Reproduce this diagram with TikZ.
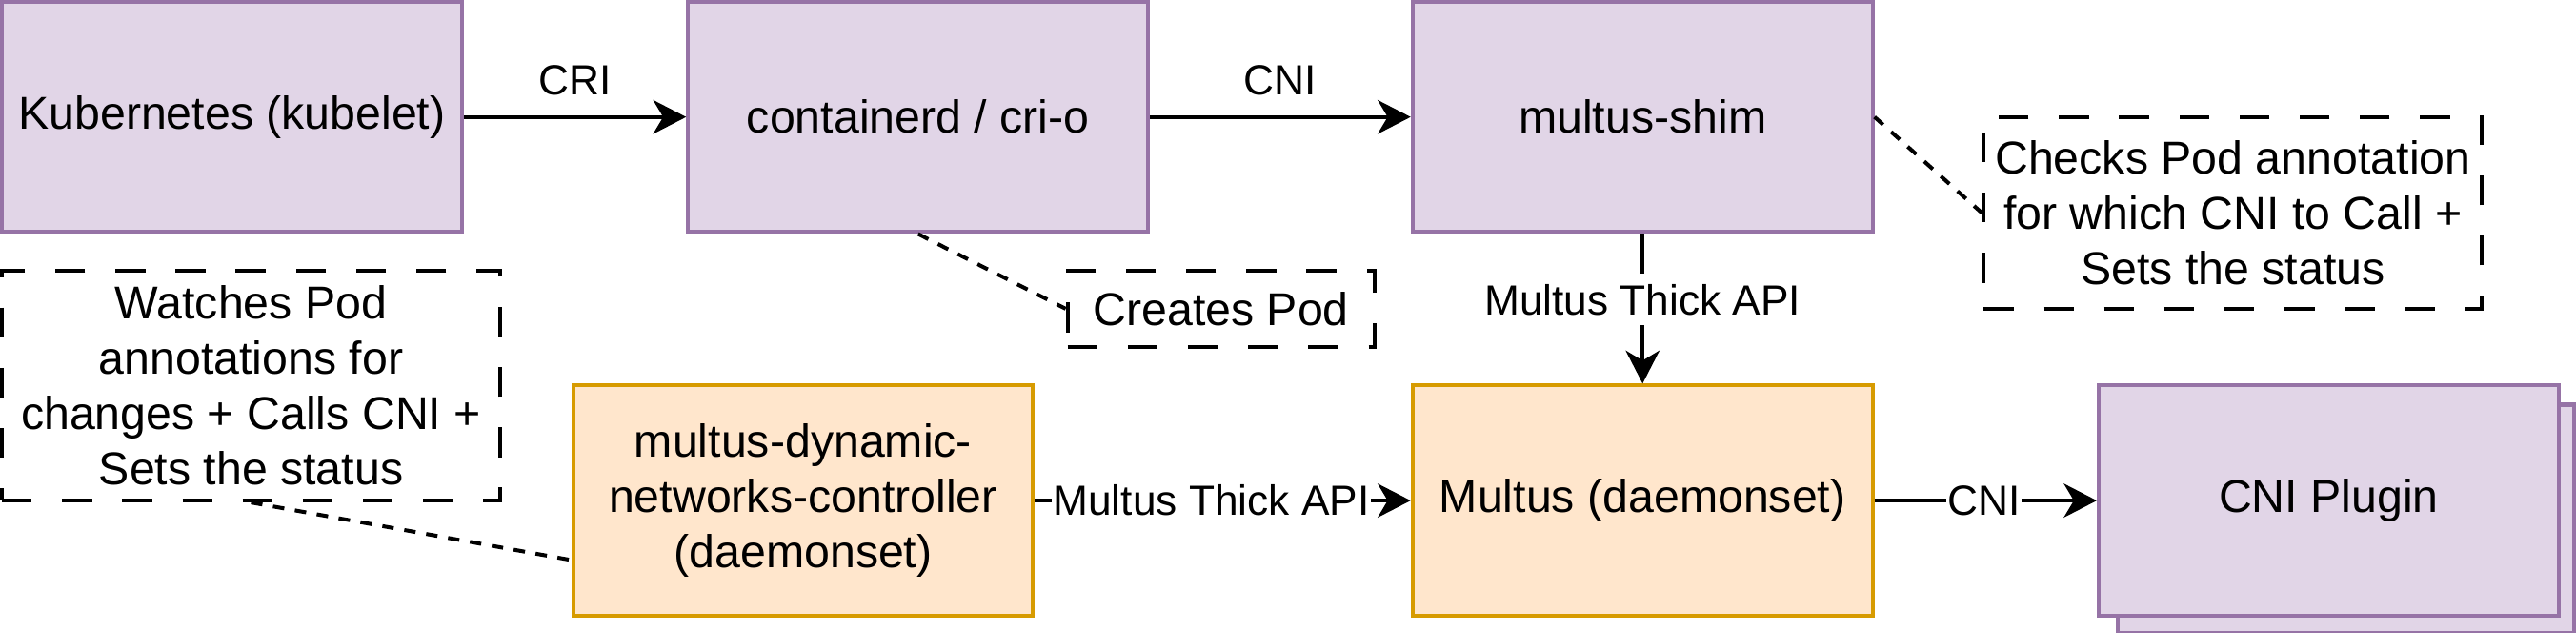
\documentclass[tikz,border=0pt]{standalone}
\usepackage{fontspec}
\setmainfont{Liberation Sans}
\usetikzlibrary{arrows.meta,calc}
\definecolor{pfill}{HTML}{E1D5E7}
\definecolor{pdraw}{HTML}{9673A6}
\definecolor{ofill}{HTML}{FFE6CC}
\definecolor{odraw}{HTML}{D79B00}
\begin{document}
\begin{tikzpicture}[x=1pt,y=-1pt,
  boxbase/.style={draw, line width=1pt, minimum width=120pt, minimum height=60pt, inner sep=0pt, align=center, font=\fontsize{12}{14.4}\selectfont},
  pbox/.style={boxbase, fill=pfill, draw=pdraw},
  obox/.style={boxbase, fill=ofill, draw=odraw},
  notebox/.style={draw=black, line width=1pt, dash pattern=on 7.8pt off 7.9pt, inner sep=0pt, align=center, font=\fontsize{12}{14.4}\selectfont},
  arr/.style={line width=1pt, -{Stealth[length=8.6pt, width=8.8pt, inset=2.6pt]}},
  dotline/.style={line width=1pt, dash pattern=on 3pt off 2.8pt},
  elabel/.style={font=\fontsize{11}{13.2}\selectfont, text height=7.9pt, text depth=0pt, inner xsep=0.3pt, inner ysep=2.7pt},
  wlabel/.style={elabel, fill=white}
]
\useasboundingbox (-0.5,-0.5) rectangle (671.5,164.5);

% boxes
\node[pbox] (kub) at (60,30) {Kubernetes (kubelet)};
\node[pbox] (ctr) at (239,30) {containerd / cri-o};
\node[pbox] (shim) at (428,30) {multus-shim};
\node[notebox, minimum width=130pt, minimum height=50pt] (chk) at (582,55) {Checks Pod annotation\\for which CNI to Call +\\Sets the status};
\node[notebox, minimum width=80pt, minimum height=20pt] (crp) at (318,80) {Creates Pod};
\node[notebox, minimum width=130pt, minimum height=60pt] (wat) at (65,100) {Watches Pod\\annotations for\\changes + Calls CNI +\\Sets the status};
\node[obox] (mdn) at (209,130) {multus-dynamic-\\networks-controller\\(daemonset)};
\node[obox] (mul) at (428,130) {Multus (daemonset)};
\node[pbox, minimum width=119pt, minimum height=59.5pt] (cnib) at (611.5,134.75) {};
\node[pbox] (cni) at (607,130) {CNI Plugin};

% arrows
\draw[arr] (kub.east) -- (ctr.west);
\node[elabel, anchor=base] (lcri) at (149.5,24.3) {CRI};
\draw[arr] (ctr.east) -- (shim.west);
\node[elabel, anchor=base] (lcni1) at (333.5,24.3) {CNI};
\draw[arr] (shim.south) -- (mul.north);
\node[wlabel] (lapi1) at (428,77.6) {Multus Thick API};
\draw[arr] (mdn.east) -- (mul.west);
\node[wlabel] (lapi2) at (315.5,130) {Multus Thick API};
\draw[arr] (mul.east) -- (cni.west);
\node[wlabel] (lcni2) at (517,130) {CNI};

% dotted connectors
\draw[dotline] (ctr.south) -- (crp.west);
\draw[dotline] (shim.east) -- (chk.west);
\draw[dotline] (wat.south) -- ([yshift=15pt]mdn.south west);
\end{tikzpicture}
\end{document}
